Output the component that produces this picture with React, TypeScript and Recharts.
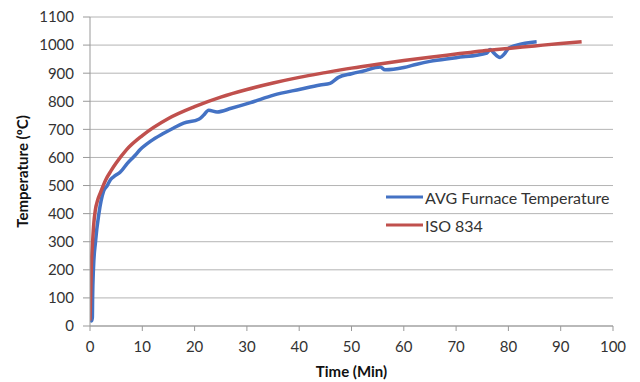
import React from "react";
import { LineChart, Line, XAxis, YAxis, CartesianGrid } from "recharts";

// AVG Furnace Temperature (time in min, temperature in ºC)
const furnaceTime = [0, 0.3, 0.45, 0.5, 0.65, 1.05, 1.7, 2.6, 3.3, 3.9, 4.8, 5.8, 7.1, 8.5, 9.6, 11.6, 14, 16, 17.9, 20.8, 21.7, 22.7, 24.3, 27, 30.7, 35.1, 40.2, 44, 45.9, 47.5, 50, 52.3, 55.5, 56.4, 60, 62.5, 65, 70, 75.9, 76.5, 77.1, 78.4, 79.2, 80, 81.6, 85.4];
const furnaceTemp = [20, 18, 30, 100, 200, 300, 400, 480, 500, 521, 535, 548, 578, 605, 628, 658, 685, 705, 722, 736, 750, 768, 762, 775, 795, 822, 843, 858, 864, 885, 898, 908, 922, 912, 920, 932, 942, 955, 972, 984, 974, 956, 968, 988, 1000, 1012];

// ISO 834 standard curve
const isoTime = [0, 0.25, 0.5, 0.75, 1, 1.5, 2, 3, 4, 5, 7, 10, 15, 20, 25, 30, 35, 40, 45, 50, 55, 60, 65, 70, 75, 80, 85, 90, 94];
const isoTemp = [20, 210, 300, 370, 410, 450, 475, 520, 552, 580, 628, 678, 739, 781, 815, 842, 865, 885, 902, 918, 932, 945, 957, 968, 979, 988, 997, 1006, 1012];

const xTicks = [0, 10, 20, 30, 40, 50, 60, 70, 80, 90, 100];
const yTicks = [0, 100, 200, 300, 400, 500, 600, 700, 800, 900, 1000, 1100];

const seriesNames = ["AVG Furnace Temperature", "ISO 834"];
const seriesColors = ["#4472C4", "#C0504D"];

const furnaceData = furnaceTime.map((t, i) => ({ t, v: furnaceTemp[i] }));
const isoData = isoTime.map((t, i) => ({ t, v: isoTemp[i] }));

const FONT = "Lato, 'Open Sans', sans-serif";

const ChartLegend = () => (
  <div style={{ position: "absolute", left: 386, top: 183, fontFamily: FONT, fontSize: 16, color: "#333" }}>
    {seriesNames.map((name, i) => (
      <div key={name} style={{ display: "flex", alignItems: "center", height: 28 }}>
        <svg width={37} height={6} style={{ marginRight: 2 }}>
          <line x1={0} y1={3} x2={37} y2={3} stroke={seriesColors[i]} strokeWidth={3} />
        </svg>
        <span>{name}</span>
      </div>
    ))}
  </div>
);

export default function App() {
  return (
    <div style={{ position: "absolute", left: 0, top: 0, width: 640, height: 382, background: "#fff" }}>
      <LineChart width={640} height={382} margin={{ top: 17, right: 27, bottom: 0, left: 0 }}>
        <CartesianGrid horizontal vertical={false} stroke="#b4b4b4" strokeWidth={1} />
        <XAxis
          type="number"
          dataKey="t"
          domain={[0, 100]}
          ticks={xTicks}
          height={56}
          stroke="#999"
          tickSize={5}
          tickMargin={10}
          tick={{ fill: "#333", fontSize: 15, fontFamily: FONT }}
          label={{ value: "Time (Min)", position: "insideBottom", offset: 5, fill: "#111", fontSize: 15, fontWeight: 700, fontFamily: FONT }}
          allowDataOverflow
        />
        <YAxis
          type="number"
          dataKey="v"
          domain={[0, 1100]}
          ticks={yTicks}
          width={90}
          stroke="#999"
          tickSize={7}
          tickMargin={9}
          tick={{ fill: "#333", fontSize: 15, fontFamily: FONT }}
          label={{ value: "Temperature (ºC)", angle: -90, position: "insideLeft", offset: 23, fill: "#111", fontSize: 15, fontWeight: 700, fontFamily: FONT, style: { textAnchor: "middle" } }}
        />
        <Line
          data={furnaceData}
          dataKey="v"
          name={seriesNames[0]}
          type="monotone"
          stroke={seriesColors[0]}
          strokeWidth={3.5}
          dot={false}
          isAnimationActive={false}
        />
        <Line
          data={isoData}
          dataKey="v"
          name={seriesNames[1]}
          type="monotone"
          stroke={seriesColors[1]}
          strokeWidth={3.5}
          dot={false}
          isAnimationActive={false}
        />
      </LineChart>
      <ChartLegend />
    </div>
  );
}
